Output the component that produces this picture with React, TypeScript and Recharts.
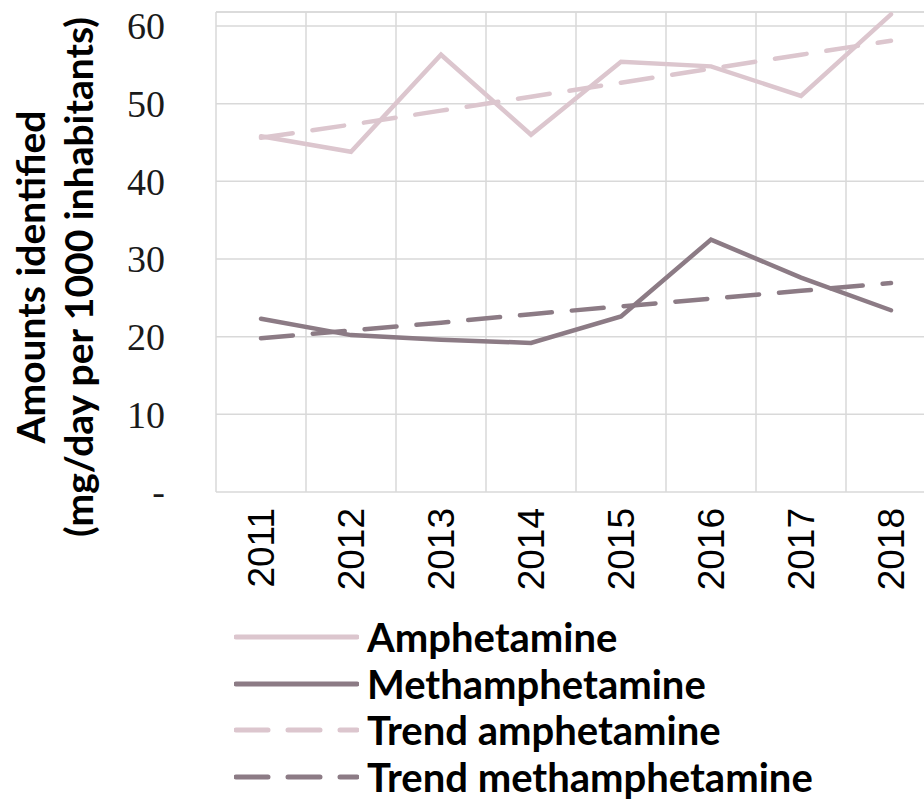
import React from 'react';
import { LineChart, Line, XAxis, YAxis, CartesianGrid, Legend, ReferenceLine } from 'recharts';

const years = ['2011', '2012', '2013', '2014', '2015', '2016', '2017', '2018'];
const amphetamine = [45.8, 43.8, 56.3, 46.0, 55.4, 54.8, 51.0, 61.5];
const methamphetamine = [22.3, 20.2, 19.6, 19.2, 22.6, 32.5, 27.6, 23.4];
const trendAmphetamine = [45.6, 47.3, 49.1, 50.9, 52.7, 54.5, 56.3, 58.1];
const trendMethamphetamine = [19.8, 20.8, 21.8, 22.9, 23.9, 24.9, 25.9, 26.9];
const yTicks = [0, 10, 20, 30, 40, 50, 60];
const yMax = 61.8;

const series = [
  { key: 'amph', name: 'Amphetamine', color: '#dcc6ce', dash: undefined },
  { key: 'meth', name: 'Methamphetamine', color: '#8c7b85', dash: undefined },
  { key: 'trendAmph', name: 'Trend amphetamine', color: '#dcc6ce', dash: '32 20' },
  { key: 'trendMeth', name: 'Trend methamphetamine', color: '#8c7b85', dash: '32 20' },
];

const data = years.map((year, i) => ({
  year,
  amph: amphetamine[i],
  meth: methamphetamine[i],
  trendAmph: trendAmphetamine[i],
  trendMeth: trendMethamphetamine[i],
}));

const sans = 'Lato, "Open Sans", sans-serif';

// vertical grid lines sit between categories (Excel "between tick marks")
const betweenCategories = (props: any) => {
  const scale = props && props.xAxis && props.xAxis.scale;
  if (typeof scale === 'function') {
    const centers = years.map((y) => scale(y));
    const step = centers[1] - centers[0];
    return [centers[0] - step / 2, ...centers.map((c: number) => c + step / 2)];
  }
  const off = props && props.offset;
  const left = off && typeof off.left === 'number' ? off.left : 216;
  const width = off && typeof off.width === 'number' ? off.width : 720;
  const w = width / years.length;
  return [...years.map((_, i) => left + i * w), left + width];
};

const YearTick = ({ x, y, payload }: any) => (
  <text
    x={x}
    y={y}
    transform={`rotate(-90, ${x}, ${y})`}
    textAnchor="end"
    dominantBaseline="central"
    fontFamily='"Liberation Sans", Arial, sans-serif'
    fontSize={37}
    fill="#000"
  >
    {payload.value}
  </text>
);

const AxisTitle = () => (
  <g fontFamily={sans} fontWeight={700} fontSize={39} fill="#000">
    <text x={45} y={277} transform="rotate(-90, 45, 277)" textAnchor="middle">
      Amounts identified
    </text>
    <text x={93} y={277} transform="rotate(-90, 93, 277)" textAnchor="middle">
      (mg/day per 1000 inhabitants)
    </text>
  </g>
);

const LegendBox = () => (
  <div style={{ fontFamily: sans, fontWeight: 700, fontSize: 40, color: '#000' }}>
    {series.map((s) => (
      <div key={s.key} style={{ display: 'flex', alignItems: 'center', height: 46.5 }}>
        <svg width={125} height={10} style={{ marginRight: 8 }}>
          <line
            x1={2}
            y1={5}
            x2={123}
            y2={5}
            stroke={s.color}
            strokeWidth={5}
            strokeLinecap="round"
            strokeDasharray={s.dash}
          />
        </svg>
        <span style={{ lineHeight: '40px', whiteSpace: 'nowrap' }}>{s.name}</span>
      </div>
    ))}
  </div>
);

export default function App() {
  return (
    <div style={{ position: 'absolute', left: 0, top: 0, width: 924, height: 802, overflow: 'hidden', background: '#fff' }}>
      <LineChart width={936} height={802} data={data} margin={{ top: 12, right: 0, bottom: 200, left: 0 }}>
        <CartesianGrid stroke="#d9d9d9" strokeWidth={1.5} verticalCoordinatesGenerator={betweenCategories} />
        <XAxis
          dataKey="year"
          padding={{ left: 45, right: 45 }}
          axisLine={false}
          tickLine={false}
          tickSize={0}
          tickMargin={16}
          height={110}
          interval={0}
          tick={<YearTick />}
        />
        <YAxis
          width={216}
          domain={[0, yMax]}
          ticks={yTicks}
          interval={0}
          axisLine={false}
          tickLine={false}
          tickSize={8}
          tickMargin={43}
          tickFormatter={(v: number) => (v === 0 ? '-' : String(v))}
          tick={{ fontFamily: '"Liberation Serif", "Times New Roman", serif', fontSize: 38, fill: '#1a1a1a' }}
          label={{ content: <AxisTitle /> }}
        />
        <ReferenceLine y={yMax} stroke="#d9d9d9" strokeWidth={1.5} />
        {series.map((s) => (
          <Line
            key={s.key}
            dataKey={s.key}
            name={s.name}
            stroke={s.color}
            strokeWidth={4.5}
            strokeDasharray={s.dash}
            strokeLinecap="round"
            dot={false}
            activeDot={false}
            isAnimationActive={false}
          />
        ))}
        <Legend
          layout="vertical"
          align="center"
          verticalAlign="middle"
          wrapperStyle={{ position: 'absolute', left: 234, top: 614, width: 'auto' }}
          content={<LegendBox />}
        />
      </LineChart>
    </div>
  );
}
